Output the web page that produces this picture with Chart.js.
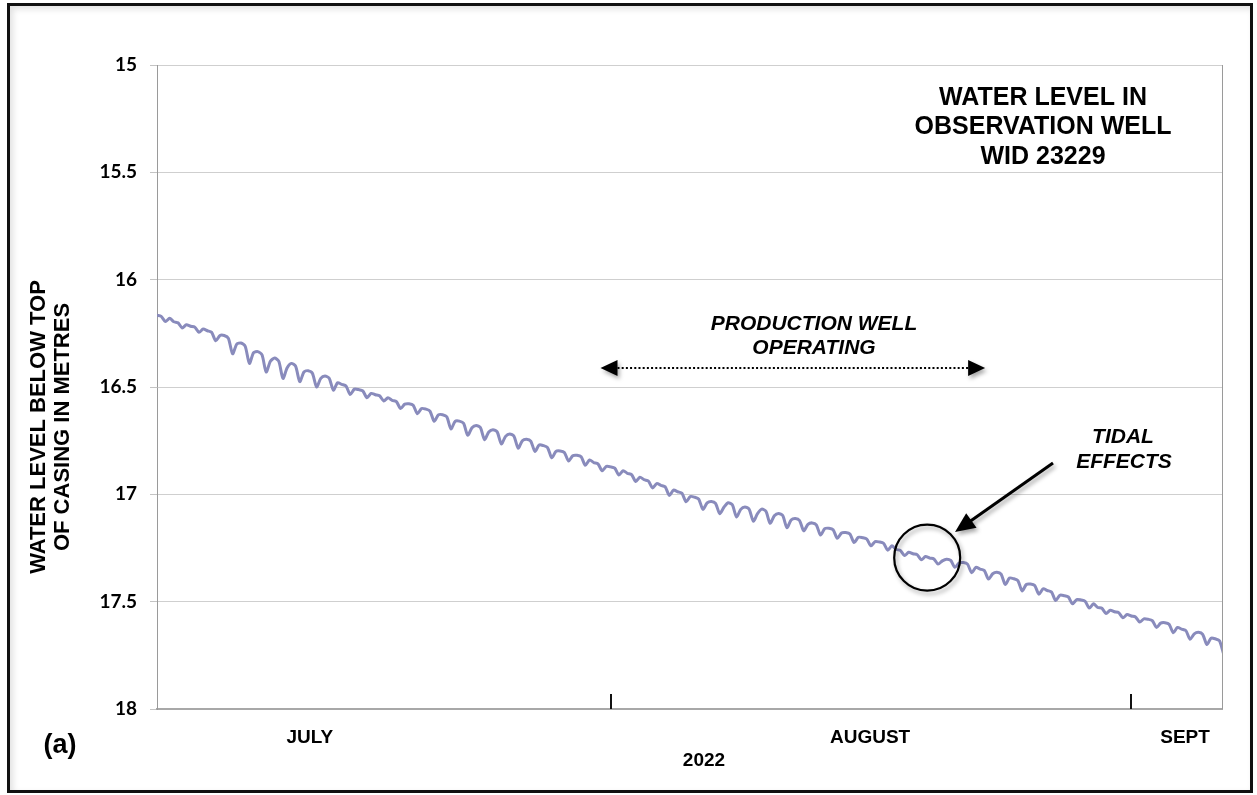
<!DOCTYPE html>
<html>
<head>
<meta charset="utf-8">
<script src="https://cdn.jsdelivr.net/npm/chart.js@4.4.1/dist/chart.umd.min.js"></script>
<style>
  html, body { margin: 0; padding: 0; background: #fff; }
  #wrap { position: relative; width: 1257px; height: 795px; }
  #frame {
    position: absolute; left: 7px; top: 3px; width: 1240px; height: 784px;
    border: 3px solid #111; box-shadow: inset 3px 3px 6px rgba(0,0,0,0.12);
    pointer-events: none;
  }
  canvas { position: absolute; left: 0; top: 0; }
</style>
</head>
<body>
<div id="wrap">
  <canvas id="c" width="1257" height="795"></canvas>
  <div id="frame"></div>
</div>
<script>
// Water level below top of casing (m), sampled every quarter day from 5 July 2022
const dayStep = 0.25;
const levels = [
  16.166, 16.171, 16.195, 16.180,  16.196, 16.201, 16.225, 16.210,
  16.217, 16.221, 16.245, 16.230,  16.238, 16.245, 16.285, 16.260,
  16.260, 16.273, 16.345, 16.300,  16.295, 16.310, 16.390, 16.340,
  16.335, 16.350, 16.430, 16.380,  16.365, 16.380, 16.460, 16.410,
  16.390, 16.403, 16.475, 16.430,  16.424, 16.436, 16.500, 16.460,
  16.449, 16.459, 16.515, 16.480,  16.488, 16.495, 16.535, 16.510,
  16.512, 16.518, 16.550, 16.530,  16.536, 16.541, 16.565, 16.550,
  16.562, 16.568, 16.600, 16.580,  16.578, 16.585, 16.625, 16.600,
  16.603, 16.612, 16.660, 16.630,  16.629, 16.639, 16.695, 16.660,
  16.659, 16.669, 16.725, 16.690,  16.679, 16.689, 16.745, 16.710,
  16.699, 16.709, 16.765, 16.730,  16.719, 16.729, 16.785, 16.750,
  16.743, 16.752, 16.800, 16.770,  16.773, 16.782, 16.830, 16.800,
  16.798, 16.805, 16.845, 16.820,  16.818, 16.825, 16.865, 16.840,
  16.852, 16.858, 16.890, 16.870,  16.872, 16.878, 16.910, 16.890,
  16.902, 16.908, 16.940, 16.920,  16.932, 16.938, 16.970, 16.950,
  16.958, 16.965, 17.005, 16.980,  16.988, 16.995, 17.035, 17.010,
  17.013, 17.022, 17.070, 17.040,  17.033, 17.042, 17.090, 17.060,
  17.039, 17.049, 17.105, 17.070,  17.059, 17.069, 17.125, 17.090,
  17.069, 17.079, 17.135, 17.100,  17.089, 17.099, 17.155, 17.120,
  17.113, 17.122, 17.170, 17.140,  17.133, 17.142, 17.190, 17.160,
  17.158, 17.165, 17.205, 17.180,  17.178, 17.185, 17.225, 17.200,
  17.202, 17.208, 17.240, 17.220,  17.222, 17.228, 17.260, 17.240,
  17.257, 17.261, 17.285, 17.270,  17.277, 17.281, 17.305, 17.290,
  17.297, 17.301, 17.325, 17.310,  17.302, 17.308, 17.340, 17.320,
  17.318, 17.325, 17.365, 17.340,  17.348, 17.355, 17.395, 17.370,
  17.363, 17.372, 17.420, 17.390,  17.393, 17.402, 17.450, 17.420,
  17.418, 17.425, 17.465, 17.440,  17.448, 17.455, 17.495, 17.470,
  17.472, 17.478, 17.510, 17.490,  17.492, 17.498, 17.530, 17.510,
  17.527, 17.531, 17.555, 17.540,  17.547, 17.551, 17.575, 17.560,
  17.567, 17.571, 17.595, 17.580,  17.582, 17.588, 17.620, 17.600,
  17.598, 17.605, 17.645, 17.620,  17.628, 17.635, 17.675, 17.650,
  17.643, 17.652, 17.700, 17.670,  17.673, 17.682, 17.745
];

// Axis ranges and tick settings
const dayMax = 63.4;
const levelTicks = [15, 15.5, 16, 16.5, 17, 17.5, 18];
const monthNames = ['JULY', 'AUGUST', 'SEPT'];
const monthLabelDays = [9.1, 42.45, 61.2];
const monthStartDays = [27, 58];           // 1 Aug, 1 Sep
const yearLabel = '2022';
const yTitle = ['WATER LEVEL BELOW TOP', 'OF CASING IN METRES'];
const chartTitle = ['WATER LEVEL IN', 'OBSERVATION WELL', 'WID 23229'];
const pumpingNote = ['PRODUCTION WELL', 'OPERATING'];
const pumpingSpan = [26.4, 49.3];          // days covered by the dotted arrow
const tidalNote = ['TIDAL', 'EFFECTS'];
const tidalCircle = { day: 45.85, level: 17.295 };
const panelLabel = '(a)';

const points = levels.map((v, i) => ({ x: i * dayStep, y: v }));

const SANS = '"Liberation Sans", Arial, sans-serif';

function arrowHead(ctx, x, y, angle, len, half) {
  ctx.save();
  ctx.translate(x, y);
  ctx.rotate(angle);
  ctx.beginPath();
  ctx.moveTo(0, 0);
  ctx.lineTo(-len, -half);
  ctx.lineTo(-len, half);
  ctx.closePath();
  ctx.fill();
  ctx.restore();
}

const decorations = {
  id: 'decorations',
  afterDraw(chart) {
    const { ctx, chartArea: a, scales: { x, y } } = chart;
    ctx.save();

    // right edge of plot frame
    ctx.strokeStyle = '#9a9a9a';
    ctx.lineWidth = 1;
    ctx.beginPath();
    ctx.moveTo(Math.round(a.right) + 0.5, a.top);
    ctx.lineTo(Math.round(a.right) + 0.5, a.bottom);
    ctx.stroke();

    // month boundary marks
    ctx.strokeStyle = '#111';
    ctx.lineWidth = 2;
    monthStartDays.forEach(d => {
      const px = Math.round(x.getPixelForValue(d));
      ctx.beginPath();
      ctx.moveTo(px, a.bottom - 15);
      ctx.lineTo(px, a.bottom);
      ctx.stroke();
    });

    // month and year labels
    ctx.fillStyle = '#000';
    ctx.textAlign = 'center';
    ctx.textBaseline = 'middle';
    ctx.font = `bold 19px ${SANS}`;
    monthNames.forEach((m, i) => {
      ctx.fillText(m, x.getPixelForValue(monthLabelDays[i]), 738);
    });
    ctx.fillText(yearLabel, 704, 761);

    // panel label
    ctx.font = `bold 27px ${SANS}`;
    ctx.fillText(panelLabel, 60, 746);

    // y-axis title
    ctx.save();
    ctx.translate(38.5, 427);
    ctx.rotate(-Math.PI / 2);
    ctx.font = `bold 22px ${SANS}`;
    ctx.fillText(yTitle[0], 0, 0);
    ctx.fillText(yTitle[1], 0, 24);
    ctx.restore();

    // chart title
    ctx.font = `bold 25px ${SANS}`;
    chartTitle.forEach((t, i) => ctx.fillText(t, 1043, 98 + i * 29.5));

    // production well note and span arrow
    ctx.font = `italic bold 21px ${SANS}`;
    ctx.fillText(pumpingNote[0], 814, 324);
    ctx.fillText(pumpingNote[1], 814, 348);

    const ay = 368;
    const x0 = x.getPixelForValue(pumpingSpan[0]);
    const x1 = x.getPixelForValue(pumpingSpan[1]);
    ctx.save();
    ctx.shadowColor = 'rgba(0,0,0,0.35)';
    ctx.shadowBlur = 4;
    ctx.shadowOffsetX = 2;
    ctx.shadowOffsetY = 3;
    ctx.fillStyle = '#000';
    arrowHead(ctx, x0, ay, Math.PI, 17, 8);
    arrowHead(ctx, x1, ay, 0, 17, 8);
    ctx.restore();
    ctx.strokeStyle = '#000';
    ctx.lineWidth = 2;
    ctx.setLineDash([2, 2.2]);
    ctx.beginPath();
    ctx.moveTo(x0 + 17, ay);
    ctx.lineTo(x1 - 17, ay);
    ctx.stroke();
    ctx.setLineDash([]);

    // tidal effects note, pointer and circle
    ctx.fillText(tidalNote[0], 1123, 437);
    ctx.fillText(tidalNote[1], 1124, 462);

    const cx = x.getPixelForValue(tidalCircle.day);
    const cy = y.getPixelForValue(tidalCircle.level);
    ctx.save();
    ctx.shadowColor = 'rgba(0,0,0,0.35)';
    ctx.shadowBlur = 4;
    ctx.shadowOffsetX = 2;
    ctx.shadowOffsetY = 3;
    const sx = 1053, sy = 463, tx = 955, ty = 532;
    const ang = Math.atan2(ty - sy, tx - sx);
    ctx.strokeStyle = '#000';
    ctx.lineWidth = 3;
    ctx.beginPath();
    ctx.moveTo(sx, sy);
    ctx.lineTo(tx - 16 * Math.cos(ang), ty - 16 * Math.sin(ang));
    ctx.stroke();
    ctx.fillStyle = '#000';
    arrowHead(ctx, tx, ty, ang, 20, 9);
    ctx.lineWidth = 2.2;
    ctx.beginPath();
    ctx.arc(cx, cy, 33, 0, Math.PI * 2);
    ctx.stroke();
    ctx.restore();

    ctx.restore();
  }
};

new Chart(document.getElementById('c'), {
  type: 'line',
  data: {
    datasets: [{
      data: points,
      borderColor: '#898bbc',
      borderWidth: 3,
      pointRadius: 0,
      tension: 0.25,
      fill: false
    }]
  },
  options: {
    responsive: false,
    animation: false,
    devicePixelRatio: 1,
    layout: { padding: { left: 0, right: 35, top: 65, bottom: 0 } },
    plugins: { legend: { display: false }, tooltip: { enabled: false } },
    scales: {
      x: {
        type: 'linear',
        min: 0,
        max: dayMax,
        ticks: { display: false },
        grid: { display: false },
        border: { display: true, color: '#a8a8a8', width: 2 },
        afterFit: s => { s.height = 86; }
      },
      y: {
        type: 'linear',
        reverse: true,
        min: 15,
        max: 18,
        afterBuildTicks: s => { s.ticks = levelTicks.map(v => ({ value: v })); },
        ticks: {
          color: '#000',
          padding: 13,
          font: { family: 'Lato, "Open Sans", sans-serif', weight: 'bold', size: 19 },
          callback: v => String(v)
        },
        grid: { color: '#cfcfcf', lineWidth: 1, tickLength: 7, tickColor: '#c4c4c4' },
        border: { display: true, color: '#9a9a9a', width: 1 },
        afterFit: s => { s.width = 157; }
      }
    }
  },
  plugins: [decorations]
});
</script>
</body>
</html>
